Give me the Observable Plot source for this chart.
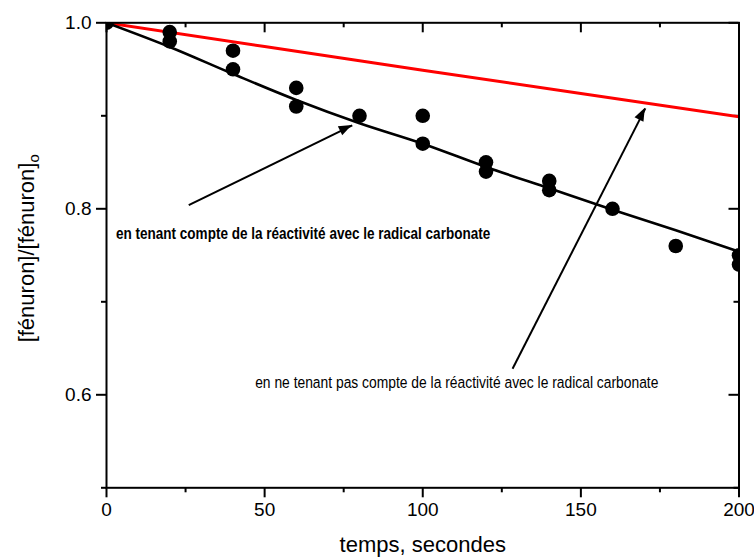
<!DOCTYPE html>
<html><head><meta charset="utf-8">
<script src="https://cdn.jsdelivr.net/npm/d3@7"></script>
<script src="https://cdn.jsdelivr.net/npm/@observablehq/plot@0.6"></script>
<style>body{margin:0;background:#fff}</style>
</head><body><div id="chart"></div>
<script>
// Observed points
const obsTime  = [0, 20, 20, 40, 40, 60, 60, 80, 100, 100, 120, 120, 140, 140, 160, 180, 200, 200];
const obsRatio = [1.0, 0.99, 0.98, 0.97, 0.95, 0.93, 0.91, 0.90, 0.90, 0.87, 0.85, 0.84, 0.83, 0.82, 0.80, 0.76, 0.75, 0.74];
// Model with carbonate radical (black)
const fitTime = [0, 20, 40, 60, 80, 100, 120, 140, 160, 180, 200];
const fitWithCarbonate = [1.0, 0.974, 0.945, 0.917, 0.892, 0.870, 0.845, 0.822, 0.799, 0.777, 0.754];
// Model without carbonate radical (red)
const noCarbTime = [0, 50, 100, 150, 200];
const fitWithoutCarbonate = [1.0, 0.9745, 0.949, 0.924, 0.899];
// Ticks
const xTicksMajor = [0, 50, 100, 150, 200];
const xTicksMinor = [25, 75, 125, 175];
const yTicksMajor = [0.6, 0.8, 1.0];
const yTicksMinor = [0.5, 0.7, 0.9];
// Annotations
const noteText = ["en tenant compte de la réactivité avec le radical carbonate",
                  "en ne tenant pas compte de la réactivité avec le radical carbonate"];
const noteX = [3, 47];
const noteY = [0.768, 0.607];
const noteWeight = ["bold", "normal"];
const arrowFromX = [26, 128.4];
const arrowFromY = [0.804, 0.628];
const arrowToX = [77.7, 170.4];
const arrowToY = [0.8896, 0.908];
const xLabel = "temps, secondes";
const yLabel = "[fénuron]/[fénuron]";
const yLabelSub = "o";

const obs = obsTime.map((t, i) => ({t, v: obsRatio[i]}));
const fitA = fitTime.map((t, i) => ({t, v: fitWithCarbonate[i]}));
const fitB = noCarbTime.map((t, i) => ({t, v: fitWithoutCarbonate[i]}));
const notes = noteText.map((s, i) => ({s, x: noteX[i], y: noteY[i], w: noteWeight[i]}));
const arrows = arrowFromX.map((x1, i) => ({x1, y1: arrowFromY[i], x2: arrowToX[i], y2: arrowToY[i]}));

// Layout
const W = 754, H = 557;
const mL = 106, mR = 15.5, mT = 22.3, mB = 69.7;
const frameW = W - mL - mR, frameH = H - mT - mB;
const majorLen = 10, minorLen = 5;

const font = "Liberation Sans, Arial, Helvetica, sans-serif";
const tick = {strokeWidth: 2, label: null};
const blank = () => "";
const ink = {stroke: "#000", strokeWidth: 2};

const plot = Plot.plot({
  width: W, height: H,
  marginLeft: mL, marginRight: mR, marginTop: mT, marginBottom: mB,
  style: {fontFamily: font, background: "#fff", color: "#000"},
  x: {domain: [0, 200]},
  y: {domain: [0.5, 1.0]},
  marks: [
    Plot.axisX(xTicksMajor, {...tick, anchor: "bottom", tickSize: majorLen, tickPadding: 5, fontSize: 19}),
    Plot.axisX(xTicksMinor, {...tick, anchor: "bottom", tickSize: minorLen, tickFormat: blank}),
    Plot.axisY(yTicksMajor, {...tick, anchor: "left", tickSize: majorLen, tickPadding: 5, fontSize: 19, tickFormat: d3.format(".1f")}),
    Plot.axisY(yTicksMinor, {...tick, anchor: "left", tickSize: minorLen, tickFormat: blank}),
    // inward ticks on top and right edges
    Plot.tickX(xTicksMajor, {x: d => d, insetBottom: frameH - majorLen, ...ink}),
    Plot.tickX(xTicksMinor, {x: d => d, insetBottom: frameH - minorLen, ...ink}),
    Plot.tickY(yTicksMajor, {y: d => d, insetLeft: frameW - majorLen, ...ink}),
    Plot.tickY(yTicksMinor, {y: d => d, insetLeft: frameW - minorLen, ...ink}),
    Plot.line(fitB, {x: "t", y: "v", stroke: "#ff0000", strokeWidth: 3, clip: true}),
    Plot.line(fitA, {x: "t", y: "v", stroke: "#000", strokeWidth: 2.6, curve: "monotone-x", clip: true}),
    Plot.dot(obs, {x: "t", y: "v", r: 7.3, fill: "#000", clip: true}),
    Plot.link(arrows, {x1: "x1", y1: "y1", x2: "x2", y2: "y2", stroke: "#000", strokeWidth: 2}),
    Plot.text(notes.filter(d => d.w === "bold"), {x: "x", y: "y", text: "s", textAnchor: "start", lineAnchor: "middle", fontSize: 16.5, fontWeight: "bold", fill: "#000"}),
    Plot.text(notes.filter(d => d.w !== "bold"), {x: "x", y: "y", text: "s", textAnchor: "start", lineAnchor: "middle", fontSize: 16.9, fill: "#000"}),
    Plot.text([xLabel], {frameAnchor: "bottom", dy: 57, text: d => d, fontSize: 22, lineAnchor: "middle", fill: "#000"}),
    Plot.text([yLabel], {frameAnchor: "left", dx: -80, dy: -7, rotate: -90, text: d => d, fontSize: 22, lineAnchor: "middle", textAnchor: "middle", fill: "#000"}),
    Plot.frame({stroke: "#000", strokeWidth: 2})
  ]
});

const sx = plot.scale("x"), sy = plot.scale("y");
const svg = d3.select(plot);

// Filled arrowheads placed through the plot's own scales
for (const a of arrows) {
  const x1 = sx.apply(a.x1), y1 = sy.apply(a.y1), x2 = sx.apply(a.x2), y2 = sy.apply(a.y2);
  const len = Math.hypot(x2 - x1, y2 - y1), ux = (x2 - x1) / len, uy = (y2 - y1) / len;
  const L = 13, Wd = 5;
  const bx = x2 - L * ux, by = y2 - L * uy;
  svg.append("polygon")
    .attr("points", [[x2, y2], [bx - Wd * uy, by + Wd * ux], [bx + Wd * uy, by - Wd * ux]].map(p => p.join(",")).join(" "))
    .attr("fill", "#000");
}
// Annotation texts use a condensed face in the reference: squeeze them horizontally
const condense = 0.82;
svg.selectAll("text").filter(function() { return noteText.includes(this.textContent); })
  .each(function() {
    const el = d3.select(this);
    let tr = el.attr("transform") || "";
    const x = el.attr("x"), y = el.attr("y");
    if (x != null || y != null) {
      tr = `translate(${+x || 0},${+y || 0}) ` + tr;
      el.attr("x", null).attr("y", null);
    }
    el.attr("transform", `${tr} scale(${condense},1)`);
  });
// Subscript on the y label
svg.selectAll("text").filter(function() { return this.textContent === yLabel; })
  .each(function() {
    d3.select(this).append("tspan").attr("dy", "0.35em").attr("font-size", 15).text(yLabelSub);
  });

document.getElementById("chart").append(plot);
</script>
</body></html>
